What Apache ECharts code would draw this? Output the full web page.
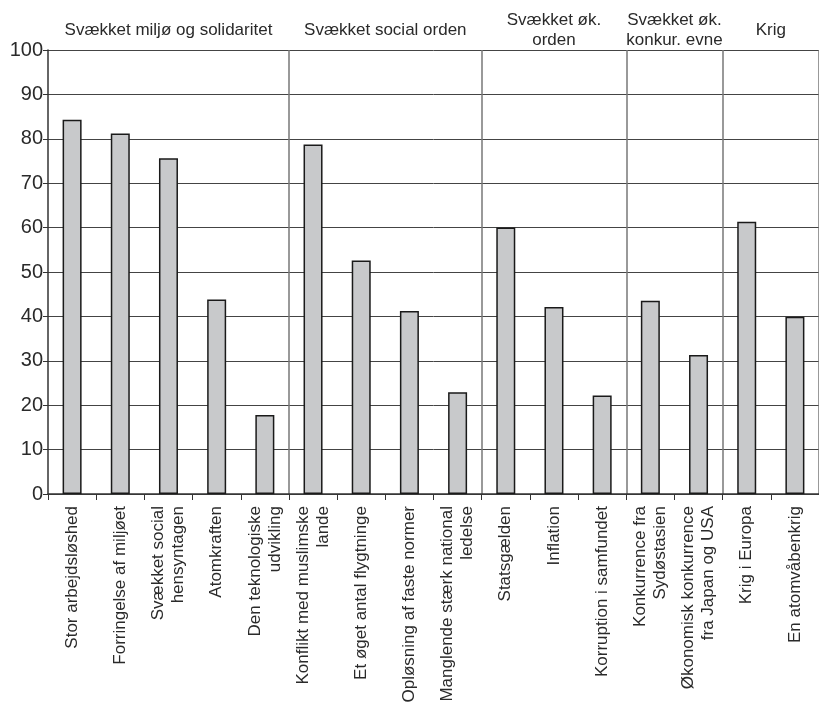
<!DOCTYPE html>
<html>
<head>
<meta charset="utf-8">
<script src="https://cdn.jsdelivr.net/npm/echarts@6/dist/echarts.min.js"></script>
<style>
html,body{margin:0;padding:0;background:#fff;}
#c{width:819px;height:711px;}
</style>
</head>
<body>
<div id="c"></div>
<script>
const categories = [
  'Stor arbejdsløshed',
  'Forringelse af miljøet',
  'Svækket social\nhensyntagen',
  'Atomkraften',
  'Den teknologiske\nudvikling',
  'Konflikt med muslimske\nlande',
  'Et øget antal flygtninge',
  'Opløsning af faste normer',
  'Manglende stærk national\nledelse',
  'Statsgælden',
  'Inflation',
  'Korruption i samfundet',
  'Konkurrence fra\nSydøstasien',
  'Økonomisk konkurrence\nfra Japan og USA',
  'Krig i Europa',
  'En atomvåbenkrig'
];
const values = [84.3, 81.2, 75.6, 43.8, 17.8, 78.7, 52.6, 41.2, 22.9, 60.0, 42.1, 22.2, 43.5, 31.3, 61.3, 39.9];
const groupNames = ['Svækket miljø og solidaritet', 'Svækket social orden', 'Svækket øk.\norden', 'Svækket øk.\nkonkur. evne', 'Krig'];
const groupStart = [0, 5, 9, 12, 14];
const groupEnd = [4, 8, 11, 13, 15];
const yTicks = [0, 10, 20, 30, 40, 50, 60, 70, 80, 90, 100];

const FONT = '"Liberation Sans", Arial, sans-serif';
const chart = echarts.init(document.getElementById('c'));
chart.setOption({
  animation: false,
  backgroundColor: '#fff',
  grid: {left: 48, top: 50, width: 773, height: 444, containLabel: false},
  xAxis: {
    type: 'category',
    data: categories,
    boundaryGap: true,
    axisLine: {lineStyle: {color: '#333', width: 1.5}},
    axisTick: {show: true, interval: 0, length: 6, lineStyle: {color: '#333', width: 1}},
    axisLabel: {interval: 0, rotate: 90, margin: 12, color: '#2a2a2a', fontFamily: FONT, fontSize: 17, lineHeight: 20},
    splitLine: {show: true, interval: function (i) { return groupStart.indexOf(i) > 0; }, lineStyle: {color: '#777', width: 1.5}}
  },
  yAxis: {
    type: 'value',
    min: yTicks[0],
    max: yTicks[yTicks.length - 1],
    interval: 10,
    axisLine: {show: true, lineStyle: {color: '#333', width: 1.5}},
    axisTick: {show: true, length: 5, lineStyle: {color: '#333'}},
    axisLabel: {color: '#2a2a2a', fontFamily: FONT, fontSize: 20, margin: 5},
    splitLine: {show: true, lineStyle: {color: '#444', width: 1}}
  },
  series: [{
    type: 'bar',
    data: values,
    barWidth: 19,
    itemStyle: {color: '#c8c9cb', borderColor: '#1a1a1a', borderWidth: 1.5}
  }]
});

const graphics = groupNames.map(function (name, g) {
  const x0 = chart.convertToPixel({xAxisIndex: 0}, groupStart[g]);
  const x1 = chart.convertToPixel({xAxisIndex: 0}, groupEnd[g]);
  return {
    type: 'text',
    x: (x0 + x1) / 2,
    y: 30,
    style: {text: name, fontFamily: FONT, fontSize: 17, lineHeight: 20, fill: '#2a2a2a', align: 'center', verticalAlign: 'middle'}
  };
});
chart.setOption({graphic: graphics});
</script>
</body>
</html>
